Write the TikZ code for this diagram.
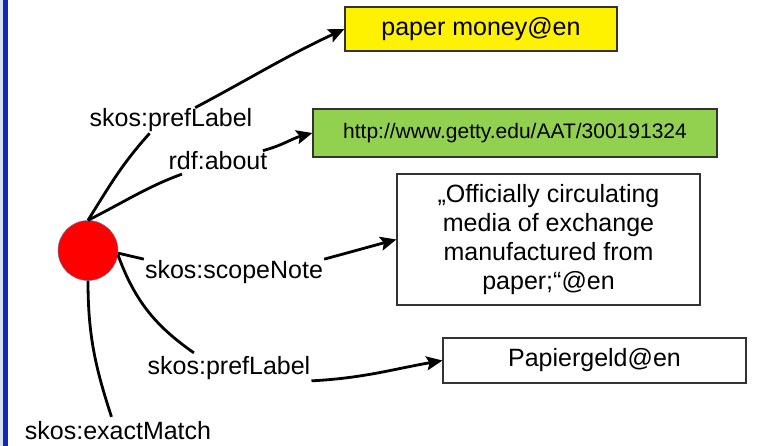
\documentclass[tikz,border=0pt]{standalone}
\usepackage{fontspec}
\setmainfont{Liberation Sans}
\usetikzlibrary{arrows.meta}

\definecolor{uri}{RGB}{146,208,80}
\definecolor{winblue}{RGB}{20,40,180}
\definecolor{winlight}{RGB}{215,225,245}
\definecolor{circblue}{RGB}{79,129,189}

\tikzset{
	lit/.style={draw=black!80,line width=1.2pt,inner sep=0pt,align=center},
	rel/.style={inner sep=1pt},
	link/.style={line width=2.8pt,>={Stealth[length=16pt,width=14pt,inset=3pt]}}
}

\begin{document}
\begin{tikzpicture}[x=1pt,y=-1pt,font=\fontsize{25}{29}\selectfont]
	\useasboundingbox (0,0) rectangle (758,446);
	\fill[winlight] (0,0) rectangle (3,446);
	\fill[winblue] (3,0) rectangle (8,446);

	\node[circle,fill=red,draw=circblue,minimum size=60pt,inner sep=0pt] (R) at (88,250.5) {};

	\node[lit,fill=yellow,minimum width=272pt,minimum height=44pt] (B1) at (481,29) {paper money@en};
	\node[lit,fill=uri,minimum width=404pt,minimum height=48pt,font=\fontsize{21}{25}\selectfont] (B2) at (515,133) {http://www.getty.edu/AAT/300191324};
	\node[lit,minimum width=303pt,minimum height=131pt] (B3) at (548.5,239.5) {„Officially circulating\\media of exchange\\manufactured from\\paper;“@en};
	\node[lit,minimum width=303pt,minimum height=45pt] (B4) at (594.5,360.5) {Papiergeld@en};

	\foreach \x/\y/\t [count=\n] in {171/120.5/skos:prefLabel,218/161/rdf:about,234/272/skos:scopeNote,229/368/skos:prefLabel,118/431/skos:exactMatch}
		\node[rel] (L\n) at (\x,\y) {\t};

	\path [link]
		(R.north) edge [out=58,in=228] (L1.211)
		(L1.28) edge [->,out=28,in=205] (B1.west)
		(R.north) edge [out=27,in=200,shorten >=8pt] (L2.200)
		(L2.13) edge [->,out=15,in=195] (B2.west)
		(R.-5) edge (L3.north west)
		(L3.north east) edge [->,out=15,in=195] (B3.west)
		(R.-8) edge [out=-70,in=145,shorten >=4pt] (L4.158)
		(L4.south east) edge [->,out=3,in=190] (B4.west)
		(R.south) edge [out=-90,in=108,shorten >=4pt] (L5.117);
\end{tikzpicture}
\end{document}
